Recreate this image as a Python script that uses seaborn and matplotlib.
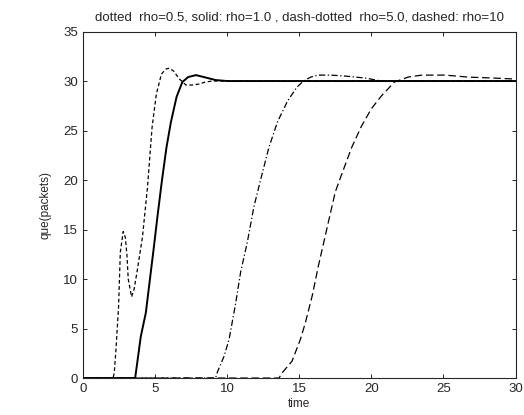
import matplotlib
matplotlib.use('Agg')
import matplotlib.pyplot as plt
import seaborn as sns
import pandas as pd

# queue length (packets)
t_rho05 = [0, 2.1, 2.18, 2.3, 2.48, 2.6, 2.8, 2.95, 3.06, 3.15, 3.38, 3.56, 3.79, 4.14, 4.48, 4.8, 5.1,
           5.45, 5.75, 6.0, 6.3, 6.7, 7.15, 7.6, 8.07, 8.5, 8.97, 10, 30]
q_rho05 = [0, 0, 0.5, 2.9, 7.2, 12.7, 14.8, 14.2, 12.4, 10.0, 8.2, 9.0, 11.0, 14.3, 19.2, 25.3, 28.7,
           30.7, 31.2, 31.3, 31.0, 30.2, 29.6, 29.6, 29.7, 29.9, 30.0, 30.0, 30.0]

t_rho1 = [0, 3.63, 4.02, 4.37, 4.94, 5.19, 5.49, 5.8, 6.1, 6.5, 6.9, 7.3, 7.84, 8.4, 9.2, 10, 30]
q_rho1 = [0, 0, 4.2, 6.6, 13.4, 16.5, 20.0, 23.3, 25.8, 28.4, 29.9, 30.4, 30.6, 30.4, 30.1, 30.0, 30.0]

t_rho5 = [0, 9.2, 9.33, 9.79, 10.14, 10.6, 10.94, 11.4, 11.86, 12.32, 12.9, 13.5, 14.2, 14.85, 15.3,
          15.8, 16.3, 17.2, 18.2, 19.6, 20.7, 30]
q_rho5 = [0, 0, 0.6, 2.2, 3.9, 7.6, 10.7, 13.7, 17.3, 20.0, 23.3, 25.9, 28.0, 29.4, 30.0,
          30.4, 30.6, 30.6, 30.5, 30.3, 30.0, 30.0]

t_rho10 = [0, 13.6, 13.8, 14.5, 15.08, 15.43, 15.9, 16.34, 16.92, 17.5, 17.95, 18.64, 19.3, 20.0,
           20.7, 21.6, 22.55, 23.5, 25.1, 26.7, 28.5, 30]
q_rho10 = [0, 0, 0.5, 1.7, 3.9, 5.6, 8.3, 11.4, 15.1, 18.8, 20.6, 23.3, 25.4, 27.2,
           28.5, 29.9, 30.4, 30.6, 30.6, 30.4, 30.3, 30.2]

title = 'dotted  rho=0.5, solid: rho=1.0 , dash-dotted  rho=5.0, dashed: rho=10'

sns.set_style('ticks')
plt.rcParams['font.family'] = ['Liberation Sans', 'DejaVu Sans']

fig = plt.figure(figsize=(5.24, 4.15), dpi=100)
ax = fig.add_axes([0.158, 0.089, 0.826, 0.835])

curves = [
    (t_rho05, q_rho05, dict(dashes=(3, 2), linewidth=0.9)),
    (t_rho1, q_rho1, dict(linestyle='-', linewidth=1.4)),
    (t_rho5, q_rho5, dict(dashes=(5, 2, 1, 2), linewidth=0.9)),
    (t_rho10, q_rho10, dict(dashes=(6, 3), linewidth=0.9)),
]
for t, q, style in curves:
    df = pd.DataFrame({'time': t, 'que': q})
    sns.lineplot(data=df, x='time', y='que', ax=ax, color='black', sort=False, **style)

ax.set_xlim(0, 30)
ax.set_ylim(0, 35)
ax.set_xticks(range(0, 31, 5))
ax.set_yticks(range(0, 36, 5))
ax.tick_params(direction='in', top=True, right=True, labelsize=9.5, length=3, width=0.7)
for s in ax.spines.values():
    s.set_linewidth(0.8)
    s.set_visible(True)

ax.set_xlabel('time', fontsize=8.5, labelpad=2)
ax.set_ylabel('que(packets)', fontsize=8.5, labelpad=8)
ax.set_title(title, fontsize=9.5, pad=8)

fig.savefig('out.png', dpi=100)
